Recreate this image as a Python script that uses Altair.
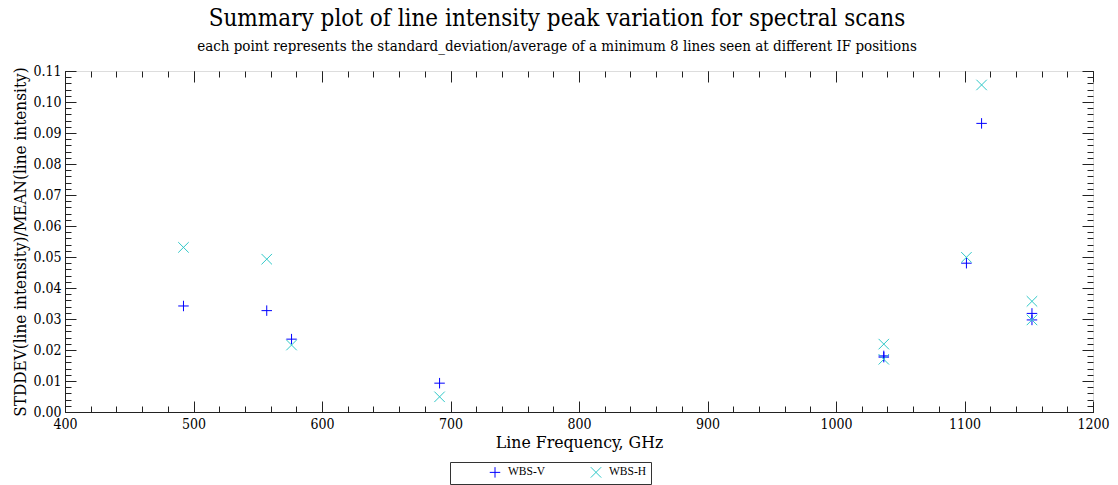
import altair as alt
import pandas as pd

# ---- data ----
series_names = ["WBS-V", "WBS-H"]
freq_v = [492.2, 557.0, 576.3, 691.5, 1037.2, 1037.2, 1101.5, 1113.3, 1152.5, 1152.5]
std_v = [0.0342, 0.0327, 0.0235, 0.0093, 0.0181, 0.0177, 0.0480, 0.0931, 0.0318, 0.0297]
freq_h = [492.2, 557.0, 576.3, 691.5, 1037.2, 1037.2, 1101.5, 1113.3, 1152.5, 1152.5]
std_h = [0.0531, 0.0493, 0.0216, 0.0049, 0.0219, 0.0170, 0.0499, 0.1055, 0.0357, 0.0297]

x_major = [400, 500, 600, 700, 800, 900, 1000, 1100, 1200]
x_minor = [400 + 20 * i for i in range(41)]
y_major = [round(0.01 * i, 3) for i in range(12)]
y_minor = [round(0.002 * i, 3) for i in range(56)]

df = pd.DataFrame({
    "freq": freq_v + freq_h,
    "val": std_v + std_h,
    "series": [series_names[0]] * len(freq_v) + [series_names[1]] * len(freq_h),
})

FONT = "DejaVu Serif Condensed, DejaVu Serif, serif"
PLUS = "M-1,0L1,0M0,-1L0,1"
CROSS = "M-1,-1L1,1M-1,1L1,-1"

xs = alt.Scale(domain=[400, 1200], nice=False, zero=False)
ys = alt.Scale(domain=[0, 0.11], nice=False, zero=True)

legend = alt.Legend(
    title=" ", titleOrient="left", titleFontSize=1, titlePadding=35,
    orient="none", legendX=385, legendY=391, direction="horizontal", columns=2,
    strokeColor="#333", padding=4, columnPadding=42, labelOffset=7,
    symbolSize=110, symbolStrokeWidth=1, symbolFillColor="transparent",
    labelFont="Liberation Serif", labelFontSize=11.5, labelColor="#000",
)

points = alt.Chart(df).mark_point(filled=False, strokeWidth=1, size=110, opacity=1).encode(
    x=alt.X("freq:Q", scale=xs, axis=alt.Axis(
        orient="bottom", values=x_major, format="d", ticks=False, grid=False,
        domain=True, domainColor="#222", labelFont=FONT, labelFontSize=14,
        labelColor="#000", labelPadding=5, title="Line Frequency, GHz",
        titleFont=FONT, titleFontSize=17.5, titleFontWeight="normal", titleColor="#000",
        titlePadding=2, labelFlush=False)),
    y=alt.Y("val:Q", scale=ys, axis=alt.Axis(
        orient="left", values=y_major, format=".2f", ticks=False, grid=False,
        domain=True, domainColor="#222", labelFont=FONT, labelFontSize=14,
        labelColor="#000", labelPadding=4, title="STDDEV(line intensity)/MEAN(line intensity)",
        titleFont=FONT, titleFontSize=17, titleFontWeight="normal", titleColor="#000",
        titlePadding=3, labelFlush=False)),
    color=alt.Color("series:N", scale=alt.Scale(domain=series_names, range=["#0000ff", "#30c8c8"]), legend=legend),
    shape=alt.Shape("series:N", scale=alt.Scale(domain=series_names, range=[PLUS, CROSS]), legend=legend),
)


def tick_axis(orient, values, size):
    return alt.Axis(orient=orient, values=values, tickSize=size, offset=-size,
                    labels=False, domain=False, title=None, grid=False,
                    ticks=True, tickColor="#222", tickWidth=1)


def tick_layer(xo, yo, xv, yv, size):
    return alt.Chart(df).mark_point(opacity=0).encode(
        x=alt.X("freq:Q", scale=xs, axis=tick_axis(xo, xv, size)),
        y=alt.Y("val:Q", scale=ys, axis=tick_axis(yo, yv, size)),
    )


layers = [
    points,
    tick_layer("bottom", "left", x_major, y_major, 11),
    tick_layer("bottom", "left", x_minor, y_minor, 6),
    tick_layer("top", "right", x_major, y_major, 11),
    tick_layer("top", "right", x_minor, y_minor, 6),
]

chart = alt.layer(*layers).resolve_axis(x="independent", y="independent").properties(
    width=1028, height=341,
    autosize=alt.AutoSizeParams(type="none"),
    padding={"left": 65, "top": 71, "right": 25, "bottom": 73},
    title=alt.TitleParams(
        text="Summary plot of line intensity peak variation for spectral scans",
        subtitle="each point represents the standard_deviation/average of a minimum 8 lines seen at different IF positions",
        font=FONT, fontSize=24, fontWeight="normal", color="#000",
        subtitleFont=FONT, subtitleFontSize=15, subtitleColor="#000",
        subtitlePadding=8, anchor="middle", dx=-22, offset=10,
    ),
).configure_view(stroke="#222", strokeWidth=1).configure(background="white")

chart.save("out.html", embed_options={"renderer": "svg", "actions": False})
